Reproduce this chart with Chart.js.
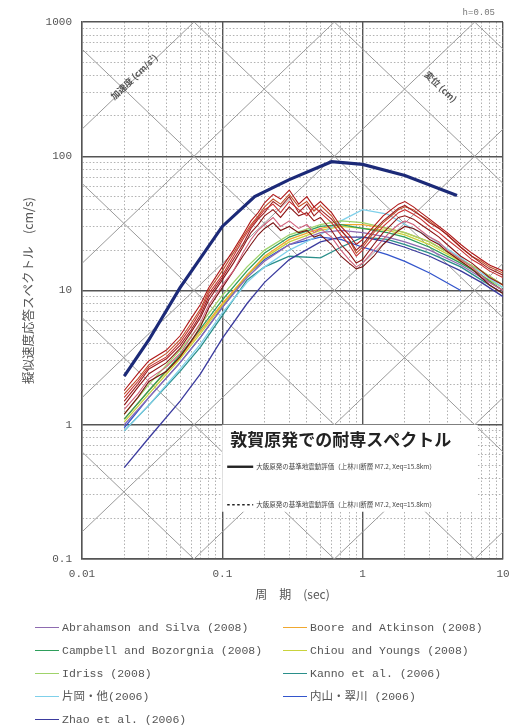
<!DOCTYPE html>
<html lang="ja">
<head>
<meta charset="utf-8">
<title>耐専スペクトル</title>
<script src="https://cdn.jsdelivr.net/npm/chart.js@4.4.1/dist/chart.umd.min.js"></script>
<style>
  body { margin: 0; background: #fff; }
  #wrap { position: relative; width: 509px; height: 726px; overflow: hidden; }
  #legend { position: absolute; left: 0; top: 0; width: 509px; height: 726px; pointer-events: none;
            font-family: "Liberation Mono", "Noto Sans CJK JP", monospace; font-size: 11.5px; color: #555; }
  .item { position: absolute; height: 16px; line-height: 16px; white-space: nowrap; }
  .item i { display: inline-block; width: 24px; height: 0; border-top: 1.6px solid; vertical-align: middle; margin-right: 3px; }
</style>
</head>
<body>
<div id="wrap">
  <canvas id="spectrum" width="509" height="610"></canvas>
  <div id="legend"></div>
</div>
<script>
// 周期 (sec)
const periods = [0.02, 0.03, 0.05, 0.07, 0.1, 0.15, 0.2, 0.3, 0.5, 0.7, 1, 1.5, 2, 3, 5, 7, 10];

// 距離減衰式 (cm/s)
const gmpeNames = ['Abrahamson and Silva (2008)', 'Campbell and Bozorgnia (2008)', 'Idriss (2008)',
  '片岡・他(2006)', 'Zhao et al. (2006)', 'Boore and Atkinson (2008)', 'Chiou and Youngs (2008)',
  'Kanno et al. (2006)', '内山・翠川 (2006)'];
const gmpeColors = ['#8e6bb0', '#2e9e5b', '#9fd36a', '#7fd0ea', '#3b3b9e', '#f0a830', '#c9d33c', '#2a8f8a', '#3355cc'];
const svAS08  = [1.0, 1.6, 2.9, 4.5, 7.5, 12.5, 16.5, 22, 27, 28, 27, 25, 23, 20, 15.5, 12.5, 10];
const svCB08  = [1.1, 1.8, 3.3, 5.2, 8.5, 14, 19, 25, 30, 31, 29, 27, 25, 21, 16, 13, 10];
const svI08   = [1.2, 2.0, 3.6, 5.6, 9.2, 15, 20, 26, 31, 33, 32, 29, 27, 23, 17, 14, 11];
const svKat   = [0.9, 1.4, 2.6, 4.0, 6.8, 11.5, 15, 20, 26, 33, 40, 37, 31, 25, 17.5, 13.5, 10.5];
const svZhao  = [0.48, 0.8, 1.5, 2.4, 4.4, 8, 11.5, 17, 23, 25, 25, 23, 21, 18, 14, 11.5, 9];
const svBA08  = [1.1, 1.8, 3.2, 5.0, 8.0, 13, 18, 24, 29, 31, 31, 29, 27, 23, 17, 14, 11];
const svCY08  = [1.05, 1.7, 3.1, 4.8, 7.8, 13, 17.5, 23, 28, 30, 29, 28, 26, 22, 16.5, 13, 10.5];
const svKanno = [0.9, 1.4, 2.5, 3.8, 6.5, 12, 15, 18, 17.5, 21, 25, 24, 22, 19, 15, 12, 9.5];
const svUchi  = [0.95, 1.6, 2.9, 4.5, 7.5, 13, 17, 22, 25, 24, 21, 18.5, 16.5, 13.5, 10, null, null];
const gmpeSV = [svAS08, svCB08, svI08, svKat, svZhao, svBA08, svCY08, svKanno, svUchi];

// 大飯原発の基準地震動 (太線)
const periodsOi = [0.02, 0.03, 0.05, 0.1, 0.17, 0.3, 0.6, 1.0, 2.0, 4.7];
const svOi = [2.3, 4.3, 10.5, 30, 50, 67, 91, 87, 72, 51];

// 耐専スペクトル (赤系)
const periodsRec = [0.02, 0.025, 0.03, 0.04, 0.05, 0.06, 0.07, 0.08, 0.1, 0.12, 0.14, 0.16, 0.18, 0.2,
  0.23, 0.26, 0.3, 0.35, 0.4, 0.45, 0.5, 0.6, 0.7, 0.8, 0.9, 1.0, 1.2, 1.4, 1.6, 1.8, 2.0, 2.3, 2.6,
  3.0, 3.5, 4, 5, 6, 7, 8, 10];
const recColors = ['#b01818', '#c83232', '#8e1616', '#d0607a', '#a02020', '#7a1010', '#c0502a'];
const rec1 = [1.8, 2.4, 3.0, 3.6, 4.6, 6.2, 7.9, 10.5, 15, 20, 26, 33, 38, 45, 52, 48, 56, 44, 50, 42, 46, 38, 30, 26, 22, 24, 30, 36, 40, 44, 46, 42, 38, 34, 30, 27, 22, 19, 17, 15.5, 14];
const rec2 = [1.6, 2.1, 2.7, 3.2, 4.1, 5.4, 7.0, 9.5, 13, 18, 24, 30, 35, 40, 44, 38, 46, 40, 36, 42, 38, 32, 26, 22, 18, 20, 25, 30, 34, 38, 40, 37, 34, 30, 27, 24, 20, 17, 15.5, 14, 12.5];
const rec3 = [1.4, 1.9, 2.4, 2.9, 3.7, 4.9, 6.3, 8.5, 12, 16, 21, 27, 31, 36, 40, 35, 42, 36, 38, 33, 35, 28, 22, 19, 16, 17, 22, 27, 31, 35, 36, 34, 31, 28, 25, 22, 18, 16, 14, 12.5, 11];
const rec4 = [1.3, 1.7, 2.2, 2.7, 3.4, 4.5, 5.8, 7.8, 11, 14, 19, 24, 28, 31, 35, 30, 33, 29, 31, 27, 29, 25, 20, 17, 15, 16, 20, 24, 28, 31, 33, 31, 28, 25, 23, 20, 17, 15, 13, 11.5, 10];
const rec5 = [1.5, 2.0, 2.6, 3.1, 3.9, 5.1, 6.6, 9, 12.5, 17, 22, 29, 34, 38, 46, 42, 50, 38, 44, 36, 40, 34, 28, 24, 20, 22, 28, 33, 37, 41, 43, 39, 36, 32, 29, 26, 21, 18, 16, 14.5, 13];
const rec6 = [1.2, 1.6, 2.1, 2.5, 3.2, 4.2, 5.4, 7.4, 10.5, 14, 18, 22, 26, 29, 32, 28, 30, 27, 28, 25, 26, 22, 18, 16, 14.5, 15, 18, 22, 25, 28, 30, 29, 27, 24, 22, 19.5, 16.5, 14.5, 12.5, 11, 9.5];
const rec7 = [1.7, 2.2, 2.8, 3.4, 4.3, 5.7, 7.3, 10, 14, 19, 25, 31, 36, 42, 48, 44, 52, 42, 46, 39, 43, 36, 28, 24, 19, 21, 27, 32, 36, 40, 42, 40, 36, 33, 29, 26, 21, 18, 16.5, 15, 13.5];
const recSV = [rec1, rec2, rec3, rec4, rec5, rec6, rec7];

// 目盛
const xDecades = [0.01, 0.1, 1, 10];
const xTickLabels = ['0.01', '0.1', '1', '10'];
const yDecades = [0.1, 1, 10, 100, 1000];
const yTickLabels = ['0.1', '1', '10', '100', '1000'];
const dispLines = [0.001, 0.01, 0.1, 1, 10, 100, 1000];      // 変位 (cm)
const accLines = [0.1, 1, 10, 100, 1000, 10000, 100000];     // 加速度 (cm/s2)

function gridValues(decades) {
  const out = [];
  decades.forEach((d, i) => {
    if (i === decades.length - 1) { out.push(d); return; }
    for (let k = 1; k <= 9; k++) out.push(d * k);
  });
  return out;
}
function isDecade(v) {
  const l = Math.log10(v);
  return Math.abs(l - Math.round(l)) < 1e-6;
}
function toPoints(xs, ys) {
  return xs.map((x, i) => ({ x: x, y: ys[i] })).filter(p => p.y !== null);
}

const datasets = [];
datasets.push({ label: '大飯原発', data: toPoints(periodsOi, svOi), borderColor: '#1c2a78', borderWidth: 3.2 });
recSV.forEach((sv, i) => {
  datasets.push({ label: 'rec' + (i + 1), data: toPoints(periodsRec, sv), borderColor: recColors[i], borderWidth: 1.1 });
});
gmpeSV.forEach((sv, i) => {
  datasets.push({ label: gmpeNames[i], data: toPoints(periods, sv), borderColor: gmpeColors[i], borderWidth: 1.3 });
});

const tripartite = {
  id: 'tripartite',
  beforeDatasetsDraw(chart) {
    const { ctx, chartArea: a, scales: { x, y } } = chart;
    const t0 = 0.01, t1 = 10;
    ctx.save();
    ctx.beginPath();
    ctx.rect(a.left, a.top, a.right - a.left, a.bottom - a.top);
    ctx.clip();
    ctx.strokeStyle = '#9a9a9a';
    ctx.lineWidth = 1;
    dispLines.forEach(d => {
      ctx.beginPath();
      ctx.moveTo(x.getPixelForValue(t0), y.getPixelForValue(2 * Math.PI * d / t0));
      ctx.lineTo(x.getPixelForValue(t1), y.getPixelForValue(2 * Math.PI * d / t1));
      ctx.stroke();
    });
    accLines.forEach(g => {
      ctx.beginPath();
      ctx.moveTo(x.getPixelForValue(t0), y.getPixelForValue(g * t0 / (2 * Math.PI)));
      ctx.lineTo(x.getPixelForValue(t1), y.getPixelForValue(g * t1 / (2 * Math.PI)));
      ctx.stroke();
    });
    // 軸の名前
    const ang = Math.atan2(y.getPixelForValue(1) - y.getPixelForValue(10), x.getPixelForValue(10) - x.getPixelForValue(1));
    ctx.fillStyle = '#555';
    ctx.font = 'bold 9px "Noto Sans CJK JP"';
    ctx.textAlign = 'center';
    ctx.textBaseline = 'middle';
    ctx.save();
    ctx.translate(x.getPixelForValue(0.0235), y.getPixelForValue(390));
    ctx.rotate(-ang);
    ctx.fillText('加速度 (cm/s²)', 0, 0);
    ctx.restore();
    ctx.save();
    ctx.translate(x.getPixelForValue(3.6), y.getPixelForValue(330));
    ctx.rotate(ang);
    ctx.fillText('変位 (cm)', 0, 0);
    ctx.restore();

    // 凡例の枠
    const bx = a.left + (a.right - a.left) * 0.333, bx2 = a.left + (a.right - a.left) * 0.94;
    const by = a.top + (a.bottom - a.top) * 0.75, by2 = a.top + (a.bottom - a.top) * 0.912;
    ctx.fillStyle = '#fff';
    ctx.fillRect(bx, by, bx2 - bx, by2 - by);
    ctx.fillStyle = '#222';
    ctx.textAlign = 'left';
    ctx.font = 'bold 17px "Noto Sans CJK JP"';
    ctx.fillText('敦賀原発での耐専スペクトル', bx + 8, by + 15);
    ctx.strokeStyle = '#222';
    ctx.lineWidth = 2.4;
    ctx.beginPath(); ctx.moveTo(bx + 5, by + 42); ctx.lineTo(bx + 31, by + 42); ctx.stroke();
    ctx.lineWidth = 1.6;
    ctx.setLineDash([2.5, 2.5]);
    ctx.beginPath(); ctx.moveTo(bx + 5, by + 80); ctx.lineTo(bx + 31, by + 80); ctx.stroke();
    ctx.setLineDash([]);
    ctx.fillStyle = '#444';
    ctx.font = '6.5px "Noto Sans CJK JP"';
    ctx.fillText('大飯原発の基準地震動評価（上林川断層 M7.2, Xeq=15.8km）', bx + 34, by + 42);
    ctx.fillText('大飯原発の基準地震動評価（上林川断層 M7.2, Xeq=15.8km）', bx + 34, by + 80);
    ctx.restore();
  },
  afterDraw(chart) {
    const { ctx, chartArea: a } = chart;
    ctx.save();
    ctx.fillStyle = '#777';
    ctx.font = '9px "Liberation Mono"';
    ctx.textAlign = 'right';
    ctx.textBaseline = 'middle';
    ctx.fillText('h=0.05', a.right - 8, a.top - 9);
    ctx.restore();
  }
};

const tickFont = { family: '"Liberation Mono", monospace', size: 11 };

const ctx = document.getElementById('spectrum').getContext('2d');
const chart = new Chart(ctx, {
  type: 'line',
  data: { datasets: datasets },
  plugins: [tripartite],
  options: {
    responsive: false,
    animation: false,
    devicePixelRatio: 1,
    layout: { padding: { top: 22, right: 6, left: 0, bottom: 0 } },
    elements: { point: { radius: 0 }, line: { tension: 0, fill: false } },
    plugins: { legend: { display: false }, tooltip: { enabled: false } },
    scales: {
      x: {
        type: 'logarithmic',
        min: 0.01,
        max: 10,
        afterBuildTicks: s => { s.ticks = gridValues(xDecades).map(v => ({ value: v, major: isDecade(v) })); },
        afterFit: s => { s.height = 51; s.paddingLeft = 0; s.paddingRight = 0; },
        grid: {
          drawTicks: false,
          color: c => (c.tick && isDecade(c.tick.value)) ? '#555' : '#a8a8a8',
          lineWidth: c => (c.tick && isDecade(c.tick.value)) ? 1.4 : 0.9
        },
        border: {
          color: '#555', width: 1.4,
          dash: c => (c.tick && !isDecade(c.tick.value)) ? [1.5, 2] : []
        },
        ticks: {
          autoSkip: false, maxRotation: 0, padding: 8, color: '#555', font: tickFont,
          callback: v => {
            const i = xDecades.findIndex(d => Math.abs(d - v) / d < 1e-6);
            return i >= 0 ? xTickLabels[i] : '';
          }
        },
        title: {
          display: true, text: '周　期　(sec)', color: '#555',
          font: { family: '"Noto Sans CJK JP"', size: 12 }, padding: { top: 2, bottom: 8 }
        }
      },
      y: {
        type: 'logarithmic',
        min: 0.1,
        max: 1000,
        afterBuildTicks: s => { s.ticks = gridValues(yDecades).map(v => ({ value: v, major: isDecade(v) })); },
        afterFit: s => { s.width = 82; },
        grid: {
          drawTicks: false,
          color: c => (c.tick && isDecade(c.tick.value)) ? '#555' : '#a8a8a8',
          lineWidth: c => (c.tick && isDecade(c.tick.value)) ? 1.4 : 0.9
        },
        border: {
          color: '#555', width: 1.4,
          dash: c => (c.tick && !isDecade(c.tick.value)) ? [1.5, 2] : []
        },
        ticks: {
          autoSkip: false, padding: 10, color: '#555', font: tickFont,
          callback: v => {
            const i = yDecades.findIndex(d => Math.abs(d - v) / d < 1e-6);
            return i >= 0 ? yTickLabels[i] : '';
          }
        },
        title: {
          display: true, text: '擬似速度応答スペクトル　(cm/s)', color: '#555',
          font: { family: '"Noto Sans CJK JP"', size: 12.5 }, padding: { top: 21, bottom: 0 }
        }
      }
    }
  }
});

// 凡例 (2列)
const legendRows = [628, 651, 674, 697, 720];
const legendBox = document.getElementById('legend');
gmpeNames.forEach((name, i) => {
  const col = i < 5 ? 0 : 1;
  const row = col === 0 ? i : i - 5;
  const el = document.createElement('div');
  el.className = 'item';
  el.style.left = (col === 0 ? 35 : 283) + 'px';
  el.style.top = (legendRows[row] - 8) + 'px';
  el.innerHTML = '<i style="border-color:' + gmpeColors[i] + '"></i>' + name;
  legendBox.appendChild(el);
});
</script>
</body>
</html>
